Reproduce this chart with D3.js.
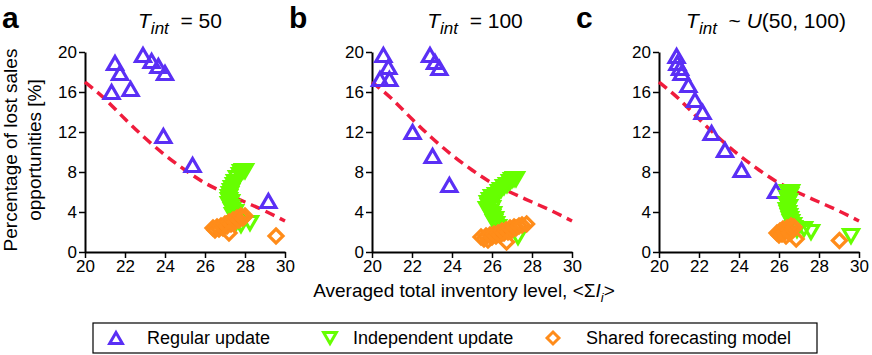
<!DOCTYPE html>
<html>
<head>
<meta charset="utf-8">
<script src="https://cdn.jsdelivr.net/npm/d3@7"></script>
<style>
  body { margin: 0; background: #fff; }
  svg { font-family: "Liberation Sans", Arial, sans-serif; }
</style>
</head>
<body>
<svg id="chart" width="872" height="355"></svg>
<script>
// Tick values
const xTicks = [20, 22, 24, 26, 28, 30];
const yTicks = [0, 4, 8, 12, 16, 20];

// Red dashed reference curve (same in every panel)
const curveX = [20, 21, 22, 23, 24, 25, 26, 27, 28, 29, 30];
const curveY = [17.0, 15.3, 13.3, 11.4, 9.7, 8.2, 6.9, 5.9, 5.0, 4.1, 3.1];

// Panel a: T_int = 50
const regularA = [[21.5, 18.9], [21.75, 17.9], [21.33, 16.0], [22.28, 16.3], [22.9, 19.7],
  [23.33, 19.1], [23.67, 18.6], [24.0, 17.9], [23.92, 11.6], [25.38, 8.7], [29.17, 5.1]];
const independentA = [[28.0, 8.1], [27.9, 8.1], [27.8, 8.0], [27.75, 7.7], [27.6, 7.4], [27.5, 7.0],
  [27.45, 6.7], [27.35, 6.4], [27.3, 6.1], [27.25, 5.8], [27.2, 5.5], [27.2, 5.2], [27.3, 5.0],
  [27.2, 4.8], [27.3, 4.5], [27.35, 4.2], [27.5, 4.0], [27.4, 3.7], [27.5, 3.5], [27.6, 3.3],
  [27.7, 3.1], [27.55, 2.9], [27.8, 2.7], [28.25, 2.9]];
const sharedA = [[26.4, 2.4], [26.5, 2.2], [26.6, 2.5], [26.7, 2.3], [26.8, 2.6], [26.9, 2.4],
  [27.0, 2.8], [27.1, 2.6], [27.2, 3.0], [27.3, 2.8], [27.4, 3.2], [27.5, 3.0], [27.6, 3.4],
  [27.7, 3.2], [27.8, 3.6], [27.9, 3.4], [28.0, 3.6], [27.2, 1.9], [29.55, 1.6]];

// Panel b: T_int = 100
const regularB = [[20.57, 19.7], [20.82, 18.5], [20.4, 17.3], [20.87, 17.3], [22.9, 19.7],
  [23.15, 19.0], [23.37, 18.4], [22.03, 12.0], [23.03, 9.6], [23.87, 6.7]];
const independentB = [[27.2, 7.3], [27.1, 7.3], [27.0, 7.2], [26.9, 7.0], [26.75, 6.7], [26.6, 6.5],
  [26.45, 6.2], [26.35, 6.0], [26.2, 5.7], [26.0, 5.5], [25.9, 5.2], [25.8, 4.9], [25.85, 4.6],
  [26.0, 4.4], [25.75, 4.3], [25.9, 4.0], [26.05, 3.8], [26.0, 3.5], [26.15, 3.3], [26.1, 3.0],
  [26.2, 2.8], [26.3, 2.5], [27.3, 1.5]];
const sharedB = [[25.45, 1.5], [25.6, 1.3], [25.7, 1.6], [25.8, 1.2], [25.9, 1.7], [26.0, 1.5],
  [26.1, 1.8], [26.2, 1.6], [26.3, 1.9], [26.4, 1.7], [26.5, 2.1], [26.6, 1.9], [26.7, 2.2],
  [26.8, 2.0], [26.9, 2.4], [27.0, 2.2], [27.1, 2.5], [27.2, 2.4], [27.35, 2.6], [27.5, 2.7],
  [27.73, 2.8], [26.73, 1.0]];

// Panel c: T_int ~ U(50, 100)
const regularC = [[20.88, 19.6], [20.92, 18.9], [21.05, 18.4], [21.13, 17.9], [21.47, 16.7],
  [21.8, 15.2], [22.18, 14.0], [22.63, 11.9], [23.3, 10.2], [24.13, 8.2], [25.85, 6.1]];
const independentC = [[26.45, 6.0], [26.6, 6.0], [26.55, 5.7], [26.45, 5.4], [26.5, 5.1], [26.4, 4.8],
  [26.5, 4.5], [26.4, 4.2], [26.45, 3.9], [26.5, 3.6], [26.55, 3.3], [26.6, 3.0], [26.7, 2.7],
  [26.75, 2.4], [26.9, 2.2], [27.25, 2.3], [27.6, 2.0], [29.6, 1.6]];
const sharedC = [[25.9, 1.9], [26.0, 1.7], [26.05, 2.1], [26.15, 1.8], [26.2, 2.3], [26.3, 2.0],
  [26.35, 1.6], [26.4, 2.4], [26.5, 2.2], [26.55, 1.9], [26.6, 2.6], [26.7, 2.3], [26.75, 2.5],
  [26.86, 1.3], [29.02, 1.15]];

const blue = "#5a2ff5", green = "#66ff00", orange = "#ff8c1a", red = "#f01c3c";

const panels = [
  { letter: "a", left: 85, title: [["T", "it"], ["int", "sub"], ["  = 50", ""]], titleX: 180,
    regular: regularA, independent: independentA, shared: sharedA },
  { letter: "b", left: 372, title: [["T", "it"], ["int", "sub"], ["  = 100", ""]], titleX: 475,
    regular: regularB, independent: independentB, shared: sharedB },
  { letter: "c", left: 659, title: [["T", "it"], ["int", "sub"], ["  ~ ", ""], ["U", "it"], ["(50, 100)", ""]], titleX: 766,
    regular: regularC, independent: independentC, shared: sharedC }
];

const svg = d3.select("#chart");
const plotW = 200, plotTop = 52, plotBottom = 252;

// marker shapes
const upTri = "M0,-6.5L7.5,6.5L-7.5,6.5Z";
const downTri = "M0,6.5L7.5,-6.5L-7.5,-6.5Z";
const diamond = "M0,-7L7,0L0,7L-7,0Z";

panels.forEach((p) => {
  const x = d3.scaleLinear().domain([20, 30]).range([p.left, p.left + plotW]);
  const y = d3.scaleLinear().domain([0, 20]).range([plotBottom, plotTop]);
  const g = svg.append("g");

  // axes
  const yAxis = g.append("g")
    .attr("transform", `translate(${p.left},0)`)
    .call(d3.axisLeft(y).tickValues(yTicks).tickSize(6).tickPadding(2).tickSizeOuter(0));
  const xAxis = g.append("g")
    .attr("transform", `translate(0,${plotBottom})`)
    .call(d3.axisBottom(x).tickValues(xTicks).tickSize(6).tickPadding(2).tickSizeOuter(0));
  [xAxis, yAxis].forEach((a) => {
    a.select(".domain").attr("stroke", "#000").attr("stroke-width", 2);
    a.selectAll(".tick line").attr("stroke", "#000").attr("stroke-width", 1.5);
    a.selectAll(".tick text").attr("fill", "#000").style("font-size", "17px")
      .style("font-family", "Liberation Sans, Arial, sans-serif");
  });

  // dashed curve
  const line = d3.line().x((d, i) => x(curveX[i])).y((d) => y(d)).curve(d3.curveMonotoneX);
  g.append("path")
    .datum(curveY)
    .attr("d", line)
    .attr("fill", "none")
    .attr("stroke", red)
    .attr("stroke-width", 3.5)
    .attr("stroke-dasharray", "10,6");

  // markers
  const drawMarkers = (data, shape, color) => {
    g.selectAll(null)
      .data(data)
      .enter()
      .append("path")
      .attr("d", shape)
      .attr("transform", (d) => `translate(${x(d[0])},${y(d[1])})`)
      .attr("fill", "none")
      .attr("stroke", color)
      .attr("stroke-width", 3.2)
      .attr("stroke-linejoin", "miter");
  };
  drawMarkers(p.regular, upTri, blue);
  drawMarkers(p.independent, downTri, green);
  drawMarkers(p.shared, diamond, orange);

  // panel letter
  svg.append("text")
    .attr("x", p.left - 83)
    .attr("y", 28)
    .style("font-size", "30px")
    .style("font-weight", "bold")
    .text(p.letter);

  // title with subscript
  const t = svg.append("text")
    .attr("x", p.titleX)
    .attr("y", 28)
    .attr("text-anchor", "middle")
    .style("font-size", "21px")
    .style("white-space", "pre");
  p.title.forEach(([s, kind]) => {
    const ts = t.append("tspan").text(s);
    if (kind === "it") ts.style("font-style", "italic");
    if (kind === "sub") ts.style("font-style", "italic").style("font-size", "17px").attr("dy", 6);
    if (kind === "" && s.startsWith(" ")) ts.attr("dy", -6);
  });
});

// y-axis label
const yl = svg.append("text")
  .attr("transform", "translate(0,150) rotate(-90)")
  .attr("text-anchor", "middle")
  .style("font-size", "19px");
yl.append("tspan").attr("x", 0).attr("y", 17).text("Percentage of lost sales");
yl.append("tspan").attr("x", 0).attr("y", 41).text("opportunities [%]");

// x-axis label
const xl = svg.append("text")
  .attr("x", 464)
  .attr("y", 297)
  .attr("text-anchor", "middle")
  .style("font-size", "19px");
xl.append("tspan").text("Averaged total inventory level, <\u03A3");
xl.append("tspan").style("font-style", "italic").text("I");
xl.append("tspan").style("font-style", "italic").style("font-size", "13px").attr("dy", 5).text("i");
xl.append("tspan").attr("dy", -5).text(">");

// legend
const legendItems = [
  { label: "Regular update", shape: upTri, color: blue, mx: 116, tx: 147 },
  { label: "Independent update", shape: downTri, color: green, mx: 330, tx: 353 },
  { label: "Shared forecasting model", shape: diamond, color: orange, mx: 553, tx: 586 }
];
svg.append("rect")
  .attr("x", 93).attr("y", 323).attr("width", 724).attr("height", 30)
  .attr("fill", "none").attr("stroke", "#000").attr("stroke-width", 1.2);
const lg = svg.selectAll(".legend-item").data(legendItems).enter().append("g").attr("class", "legend-item");
lg.append("path")
  .attr("d", (d) => d.shape)
  .attr("transform", (d) => `translate(${d.mx},338) scale(0.85)`)
  .attr("fill", "none")
  .attr("stroke", (d) => d.color)
  .attr("stroke-width", 3.5);
lg.append("text")
  .attr("x", (d) => d.tx)
  .attr("y", 344)
  .style("font-size", "18px")
  .text((d) => d.label);
</script>
</body>
</html>
